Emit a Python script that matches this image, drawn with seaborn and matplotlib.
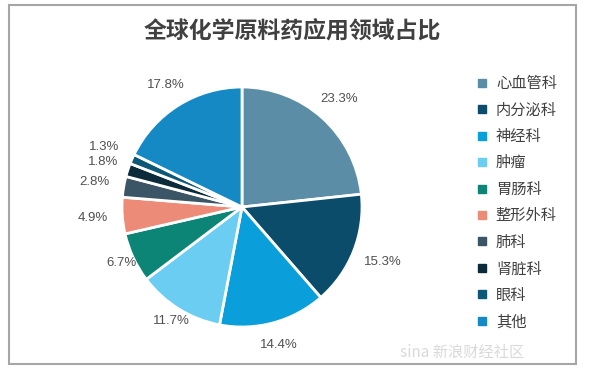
import matplotlib
matplotlib.use("Agg")
import matplotlib.pyplot as plt
import seaborn as sns
import numpy as np
from matplotlib.lines import Line2D
from matplotlib.patches import Rectangle

# ---- data ----
categories = ["心血管科", "内分泌科", "神经科", "肿瘤", "胃肠科",
              "整形外科", "肺科", "肾脏科", "眼科", "其他"]
shares = [23.3, 15.3, 14.4, 11.7, 6.7, 4.9, 2.8, 1.8, 1.3, 17.8]
title = "全球化学原料药应用领域占比"

# ---- style ----
colors = ["#5b8ea6", "#0b4c6a", "#0a9fdb", "#6ccdf2", "#0c8577",
          "#ec8b77", "#3b5566", "#0b2a3a", "#0d5876", "#1589c4"]
label_dist = [1.21, 1.26, 1.19, 1.12, 1.11, 1.25, 1.25, 1.22, 1.25, 1.2]

sns.set_theme(style="white")
plt.rcParams["font.family"] = ["Noto Sans CJK SC", "DejaVu Sans"]
palette = sns.color_palette(colors)

W, H = 589, 378
fig = plt.figure(figsize=(W / 100, H / 100), dpi=100)
fig.patch.set_facecolor("white")

cx, cy, r = 242, 207, 120
ax = fig.add_axes([(cx - r) / W, (H - cy - r) / H, 2 * r / W, 2 * r / H])
wedges, _ = ax.pie(shares, colors=palette, startangle=90, counterclock=False,
                   wedgeprops=dict(edgecolor="white", linewidth=2),
                   radius=1.0)
ax.set_xlim(-1, 1)
ax.set_ylim(-1, 1)
ax.set_aspect("equal")
ax.axis("off")

for w, v, d in zip(wedges, shares, label_dist):
    ang = np.deg2rad((w.theta1 + w.theta2) / 2)
    ax.text(d * np.cos(ang), d * np.sin(ang), f"{v}%",
            ha="center", va="center", fontsize=9.5, color="#505050",
            family=["Liberation Sans", "DejaVu Sans"], clip_on=False)

fig.text(292 / W, 1 - 32 / H, title, ha="center", va="center",
         fontsize=16.5, fontweight="bold", color="#404040")

handles = [Line2D([0], [0], marker="s", linestyle="none", markersize=6,
                  markerfacecolor=c, markeredgecolor=c) for c in palette]
leg = fig.legend(handles, categories, loc="upper left",
                 bbox_to_anchor=(476 / W, 1 - 75 / H), frameon=False,
                 fontsize=11, handlelength=0.8, handletextpad=0.5,
                 labelspacing=0.62, borderaxespad=0, borderpad=0)
for t in leg.get_texts():
    t.set_color("#404040")

fig.patches.append(Rectangle((9 / W, 1 - 364 / H), (576 - 9) / W, (364 - 5) / H,
                             transform=fig.transFigure, fill=False,
                             edgecolor="#a6a6a6", linewidth=1.5))

fig.text(400 / W, 1 - 352 / H, "sina 新浪财经社区", ha="left", va="center",
         fontsize=11, color="#d0d0d0", alpha=0.8)

fig.savefig("out.png", dpi=100)
